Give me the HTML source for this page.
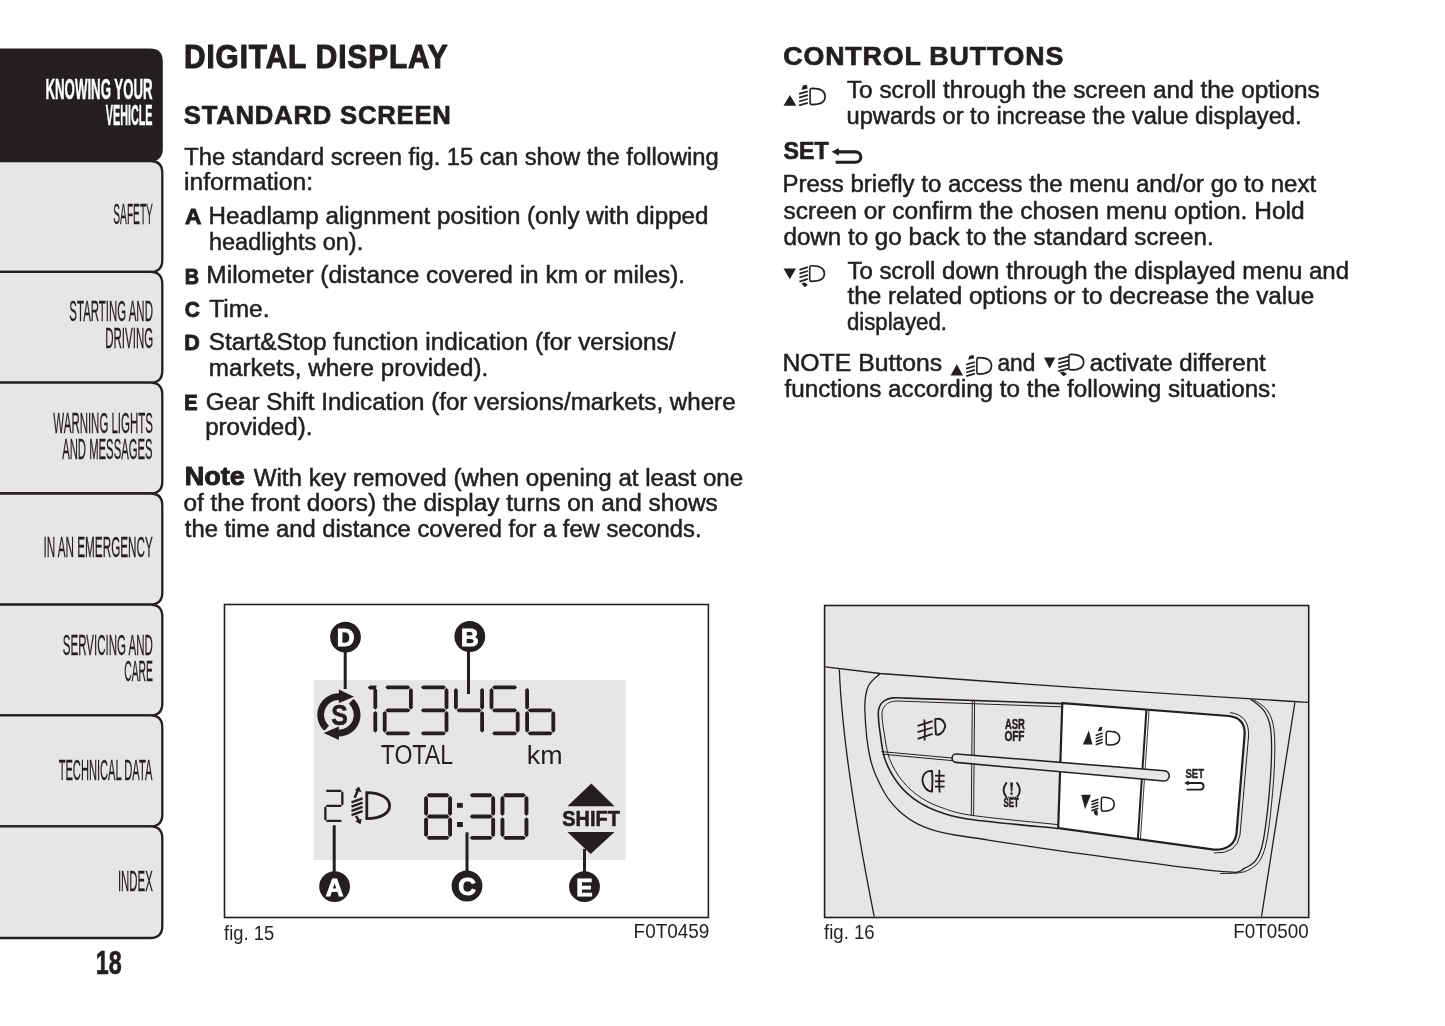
<!DOCTYPE html>
<html><head><meta charset="utf-8"><title>Digital display</title>
<style>
html,body{margin:0;padding:0;background:#ffffff;}
body{width:1445px;height:1026px;overflow:hidden;position:relative;font-family:"Liberation Sans",sans-serif;}
svg{position:absolute;left:0;top:0;will-change:transform;}
text{font-family:"Liberation Sans",sans-serif;}
</style></head><body>
<svg width="1445" height="1026" viewBox="0 0 1445 1026">
<path d="M-20 161.00L150.30 161.00Q162.30 161.00 162.30 173.00L162.30 259.90Q162.30 271.90 150.30 271.90L-20 271.90Z" fill="#e8e6e5" stroke="#231f20" stroke-width="2.3"/>
<path d="M-20 271.90L150.30 271.90Q162.30 271.90 162.30 283.90L162.30 370.70Q162.30 382.70 150.30 382.70L-20 382.70Z" fill="#e8e6e5" stroke="#231f20" stroke-width="2.3"/>
<path d="M-20 382.70L150.30 382.70Q162.30 382.70 162.30 394.70L162.30 481.50Q162.30 493.50 150.30 493.50L-20 493.50Z" fill="#e8e6e5" stroke="#231f20" stroke-width="2.3"/>
<path d="M-20 493.50L150.30 493.50Q162.30 493.50 162.30 505.50L162.30 592.60Q162.30 604.60 150.30 604.60L-20 604.60Z" fill="#e8e6e5" stroke="#231f20" stroke-width="2.3"/>
<path d="M-20 604.60L150.30 604.60Q162.30 604.60 162.30 616.60L162.30 703.40Q162.30 715.40 150.30 715.40L-20 715.40Z" fill="#e8e6e5" stroke="#231f20" stroke-width="2.3"/>
<path d="M-20 715.40L150.30 715.40Q162.30 715.40 162.30 727.40L162.30 814.40Q162.30 826.40 150.30 826.40L-20 826.40Z" fill="#e8e6e5" stroke="#231f20" stroke-width="2.3"/>
<path d="M-20 826.40L150.30 826.40Q162.30 826.40 162.30 838.40L162.30 926.00Q162.30 938.00 150.30 938.00L-20 938.00Z" fill="#e8e6e5" stroke="#231f20" stroke-width="2.3"/>
<path d="M-20 48.50L149.80 48.50Q162.80 48.50 162.80 61.50L162.80 148.50Q162.80 161.50 149.80 161.50L-20 161.50Z" fill="#231f20"/>
<rect x="224.5" y="604.5" width="483.9" height="313" fill="#ffffff" stroke="#231f20" stroke-width="1.6"/>
<rect x="313.7" y="680.1" width="311.8" height="179.9" fill="#e8e6e5"/>
<path d="M385.30 687.30L387.20 685.40L408.40 685.40L410.30 687.30L408.40 689.20L387.20 689.20ZM385.30 710.30L387.20 708.40L408.40 708.40L410.30 710.30L408.40 712.20L387.20 712.20ZM385.30 733.30L387.20 731.40L408.40 731.40L410.30 733.30L408.40 735.20L387.20 735.20ZM410.90 687.90L412.80 689.80L412.80 707.80L410.90 709.70L409.00 707.80L409.00 689.80ZM384.70 710.90L386.60 712.80L386.60 730.80L384.70 732.70L382.80 730.80L382.80 712.80ZM420.90 687.30L422.80 685.40L444.00 685.40L445.90 687.30L444.00 689.20L422.80 689.20ZM420.90 710.30L422.80 708.40L444.00 708.40L445.90 710.30L444.00 712.20L422.80 712.20ZM420.90 733.30L422.80 731.40L444.00 731.40L445.90 733.30L444.00 735.20L422.80 735.20ZM446.50 687.90L448.40 689.80L448.40 707.80L446.50 709.70L444.60 707.80L444.60 689.80ZM446.50 710.90L448.40 712.80L448.40 730.80L446.50 732.70L444.60 730.80L444.60 712.80ZM456.50 710.30L458.40 708.40L479.60 708.40L481.50 710.30L479.60 712.20L458.40 712.20ZM455.90 687.90L457.80 689.80L457.80 707.80L455.90 709.70L454.00 707.80L454.00 689.80ZM482.10 687.90L484.00 689.80L484.00 707.80L482.10 709.70L480.20 707.80L480.20 689.80ZM482.10 710.90L484.00 712.80L484.00 730.80L482.10 732.70L480.20 730.80L480.20 712.80ZM492.10 687.30L494.00 685.40L515.20 685.40L517.10 687.30L515.20 689.20L494.00 689.20ZM492.10 710.30L494.00 708.40L515.20 708.40L517.10 710.30L515.20 712.20L494.00 712.20ZM492.10 733.30L494.00 731.40L515.20 731.40L517.10 733.30L515.20 735.20L494.00 735.20ZM491.50 687.90L493.40 689.80L493.40 707.80L491.50 709.70L489.60 707.80L489.60 689.80ZM517.70 710.90L519.60 712.80L519.60 730.80L517.70 732.70L515.80 730.80L515.80 712.80ZM527.70 710.30L529.60 708.40L550.80 708.40L552.70 710.30L550.80 712.20L529.60 712.20ZM527.70 733.30L529.60 731.40L550.80 731.40L552.70 733.30L550.80 735.20L529.60 735.20ZM527.10 687.90L529.00 689.80L529.00 707.80L527.10 709.70L525.20 707.80L525.20 689.80ZM527.10 710.90L529.00 712.80L529.00 730.80L527.10 732.70L525.20 730.80L525.20 712.80ZM553.30 710.90L555.20 712.80L555.20 730.80L553.30 732.70L551.40 730.80L551.40 712.80ZM375.30 687.90L377.20 689.80L377.20 707.80L375.30 709.70L373.40 707.80L373.40 689.80ZM375.30 710.90L377.20 712.80L377.20 730.80L375.30 732.70L373.40 730.80L373.40 712.80ZM367.6 687.6L370.2 685.4L376.6 685.4L375.8 689.5L369.8 689.5ZM426.65 795.25L428.60 793.30L447.50 793.30L449.45 795.25L447.50 797.20L428.60 797.20ZM426.65 816.55L428.60 814.60L447.50 814.60L449.45 816.55L447.50 818.50L428.60 818.50ZM426.65 837.85L428.60 835.90L447.50 835.90L449.45 837.85L447.50 839.80L428.60 839.80ZM426.05 795.85L428.00 797.80L428.00 814.00L426.05 815.95L424.10 814.00L424.10 797.80ZM450.05 795.85L452.00 797.80L452.00 814.00L450.05 815.95L448.10 814.00L448.10 797.80ZM426.05 817.15L428.00 819.10L428.00 835.30L426.05 837.25L424.10 835.30L424.10 819.10ZM450.05 817.15L452.00 819.10L452.00 835.30L450.05 837.25L448.10 835.30L448.10 819.10ZM469.75 795.25L471.70 793.30L490.60 793.30L492.55 795.25L490.60 797.20L471.70 797.20ZM469.75 816.55L471.70 814.60L490.60 814.60L492.55 816.55L490.60 818.50L471.70 818.50ZM469.75 837.85L471.70 835.90L490.60 835.90L492.55 837.85L490.60 839.80L471.70 839.80ZM493.15 795.85L495.10 797.80L495.10 814.00L493.15 815.95L491.20 814.00L491.20 797.80ZM493.15 817.15L495.10 819.10L495.10 835.30L493.15 837.25L491.20 835.30L491.20 819.10ZM503.05 795.25L505.00 793.30L523.90 793.30L525.85 795.25L523.90 797.20L505.00 797.20ZM503.05 837.85L505.00 835.90L523.90 835.90L525.85 837.85L523.90 839.80L505.00 839.80ZM502.45 795.85L504.40 797.80L504.40 814.00L502.45 815.95L500.50 814.00L500.50 797.80ZM526.45 795.85L528.40 797.80L528.40 814.00L526.45 815.95L524.50 814.00L524.50 797.80ZM502.45 817.15L504.40 819.10L504.40 835.30L502.45 837.25L500.50 835.30L500.50 819.10ZM526.45 817.15L528.40 819.10L528.40 835.30L526.45 837.25L524.50 835.30L524.50 819.10ZM325.75 790.85L326.90 789.70L340.80 789.70L341.95 790.85L340.80 792.00L326.90 792.00ZM325.75 805.90L326.90 804.75L340.80 804.75L341.95 805.90L340.80 807.05L326.90 807.05ZM325.75 820.95L326.90 819.80L340.80 819.80L341.95 820.95L340.80 822.10L326.90 822.10ZM342.35 791.25L343.50 792.40L343.50 804.35L342.35 805.50L341.20 804.35L341.20 792.40ZM325.35 806.30L326.50 807.45L326.50 819.40L325.35 820.55L324.20 819.40L324.20 807.45Z" fill="#231f20"/>
<rect x="457.0" y="802.9" width="5.8" height="4.9" fill="#231f20"/>
<rect x="457.0" y="822.0" width="5.8" height="5.0" fill="#231f20"/>
<path d="M324.45 730.85A21.6 21.6 0 0 1 339.65 693.21L339.42 699.91A14.9 14.9 0 0 0 328.93 725.87ZM353.35 698.75A21.6 21.6 0 0 1 338.15 736.39L338.38 729.69A14.9 14.9 0 0 0 348.87 703.73Z" fill="#231f20"/>
<line x1="337.47" y1="704.78" x2="360.03" y2="695.44" stroke="#e8e6e5" stroke-width="2.0"/>
<polygon points="338.90,689.60 354.07,696.72 338.90,703.00" fill="#231f20"/>
<line x1="340.33" y1="724.82" x2="317.77" y2="734.16" stroke="#e8e6e5" stroke-width="2.0"/>
<polygon points="338.90,740.00 323.73,732.88 338.90,726.60" fill="#231f20"/>
<line x1="345.2" y1="650" x2="345.2" y2="689" stroke="#231f20" stroke-width="3"/>
<line x1="468.5" y1="650" x2="468.5" y2="694" stroke="#231f20" stroke-width="3"/>
<line x1="334.2" y1="825.3" x2="334.2" y2="872" stroke="#231f20" stroke-width="3"/>
<line x1="467.0" y1="832.3" x2="467.0" y2="872" stroke="#231f20" stroke-width="3"/>
<line x1="584.5" y1="849.0" x2="584.5" y2="872" stroke="#231f20" stroke-width="3"/>
<circle cx="345.5" cy="637.1" r="15.4" fill="#231f20"/>
<circle cx="469.8" cy="636.5" r="15.4" fill="#231f20"/>
<circle cx="334.6" cy="886.6" r="15.4" fill="#231f20"/>
<circle cx="467.0" cy="886.0" r="15.4" fill="#231f20"/>
<circle cx="584.5" cy="886.7" r="15.4" fill="#231f20"/>
<polygon points="567.4,806.2 614.5,806.2 591.3,783.6" fill="#231f20"/>
<polygon points="567.4,832.1 614.5,832.1 590.6,854.0" fill="#231f20"/>
<line x1="351.5" y1="802.4" x2="362.6" y2="798.4" stroke="#231f20" stroke-width="2.3"/>
<line x1="351.5" y1="806.6" x2="362.6" y2="802.6" stroke="#231f20" stroke-width="2.3"/>
<line x1="351.5" y1="810.9" x2="362.6" y2="806.9" stroke="#231f20" stroke-width="2.3"/>
<line x1="351.5" y1="815.1" x2="362.6" y2="811.1" stroke="#231f20" stroke-width="2.3"/>
<line x1="354.6" y1="797.8" x2="358.0" y2="790.0" stroke="#231f20" stroke-width="2.5"/>
<polygon points="358.9,786.6 354.9,790.0 361.6,792.2" fill="#231f20"/>
<line x1="356.0" y1="815.8" x2="359.0" y2="820.8" stroke="#231f20" stroke-width="2.5"/>
<polygon points="360.6,824.2 355.2,821.2 361.8,818.8" fill="#231f20"/>
<path d="M366.8 792.6C382 792.6 389.6 799 389.6 805.8C389.6 812.6 382 818.6 366.8 818.6Z" fill="none" stroke="#231f20" stroke-width="2.8"/>
<rect x="824.6" y="605.5" width="484.1" height="312" fill="#e8e6e5" stroke="#231f20" stroke-width="1.6"/>
<path d="M825.4 666.8L880.2 673.5Q1100 690 1308 702.3" fill="none" stroke="#231f20" stroke-width="1.3"/>
<path d="M839.3 669.4Q843 760 874.2 916.5" fill="none" stroke="#231f20" stroke-width="1.3"/>
<path d="M1294.9 702.3L1261.5 916.5" fill="none" stroke="#231f20" stroke-width="1.3"/>
<path d="M880.20 673.50C878.17 675.72 870.55 680.48 868.00 686.80C865.45 693.12 864.47 699.20 864.90 711.40C865.33 723.60 867.38 746.53 870.60 760.00C873.82 773.47 879.48 783.75 884.20 792.20C888.92 800.65 893.20 805.35 898.90 810.70C904.60 816.05 911.10 820.65 918.40 824.30C925.70 827.95 933.27 830.32 942.70 832.60C952.13 834.88 952.12 834.50 975.00 838.00C997.88 841.50 1039.50 848.07 1080.00 853.60C1120.50 859.13 1190.55 868.77 1218.00 871.20C1245.45 873.63 1237.53 871.78 1244.70 868.20C1251.87 864.62 1256.90 862.33 1261.00 849.70C1265.10 837.07 1267.58 811.17 1269.30 792.40C1271.02 773.63 1271.98 750.42 1271.30 737.10C1270.62 723.78 1268.62 718.82 1265.20 712.50C1261.78 706.18 1253.20 701.42 1250.80 699.20" fill="none" stroke="#231f20" stroke-width="1.3"/>
<path d="M1253.80 699.60C1256.23 701.67 1264.93 705.72 1268.40 712.00C1271.87 718.28 1273.90 723.87 1274.60 737.30C1275.30 750.73 1274.32 773.73 1272.60 792.60C1270.88 811.47 1268.48 837.52 1264.30 850.50C1260.12 863.48 1254.88 866.65 1247.50 870.50C1240.12 874.35 1224.58 873.08 1220.00 873.60" fill="none" stroke="#231f20" stroke-width="1.0"/>
<path d="M1062.0 703.6L905.0 698.1C903.00 698.07 896.42 697.48 893.00 697.90C889.58 698.32 886.73 699.17 884.50 700.60C882.27 702.03 880.63 704.27 879.60 706.50C878.57 708.73 878.23 709.75 878.30 714.00C878.37 718.25 878.85 724.33 880.00 732.00C881.15 739.67 882.05 751.27 885.20 760.00C888.35 768.73 893.37 777.42 898.90 784.40C904.43 791.38 911.10 797.12 918.40 801.90C925.70 806.68 933.27 810.08 942.70 813.10C952.13 816.12 955.78 817.43 975.00 820.00C994.22 822.57 1044.17 827.08 1058.00 828.50" fill="none" stroke="#231f20" stroke-width="1.6"/>
<path d="M1062.0 706.8L905.0 701.3C903.25 701.28 897.43 700.82 894.50 701.20C891.57 701.58 889.28 702.37 887.40 703.60C885.52 704.83 884.10 706.70 883.20 708.60C882.30 710.50 881.87 711.10 882.00 715.00C882.13 718.90 882.77 724.75 884.00 732.00C885.23 739.25 886.33 750.33 889.40 758.50C892.47 766.67 897.10 774.45 902.40 781.00C907.70 787.55 914.18 793.20 921.20 797.80C928.22 802.40 935.53 805.60 944.50 808.60C953.47 811.60 956.08 813.13 975.00 815.80C993.92 818.47 1044.17 823.13 1058.00 824.60" fill="none" stroke="#231f20" stroke-width="1.0"/>
<path d="M1062.3 703.2L1229 716Q1246 718 1244.5 736L1236.5 833.4Q1234 850 1214 849.7L1058.2 828Z" fill="#ffffff" stroke="#231f20" stroke-width="2.2"/>
<path d="M1230 712.6Q1250 715 1248.5 737L1240 835Q1237 854 1214 853" fill="none" stroke="#231f20" stroke-width="1.0"/>
<path d="M972.3 700.1L971.3 815.7" fill="none" stroke="#231f20" stroke-width="1.0"/>
<path d="M974.6 700.3L973.6 815.9" fill="none" stroke="#231f20" stroke-width="1.0"/>
<path d="M1146.4 710.5L1137.8 839.5" fill="none" stroke="#231f20" stroke-width="2.0"/>
<path d="M1149.0 711.0L1140.4 839.8" fill="none" stroke="#231f20" stroke-width="0.9"/>
<path d="M881.5 751.6L952 758.0" fill="none" stroke="#231f20" stroke-width="1.0"/>
<path d="M882.5 754.2L952 760.6" fill="none" stroke="#231f20" stroke-width="1.0"/>
<path d="M1060.5 766.0L1146 772.5" fill="none" stroke="#231f20" stroke-width="2.0"/>
<path d="M956.5 754.0L1164.5 770.8A5.1 5.1 0 0 1 1163.8 781.0L956 762.4A4.2 4.2 0 0 1 956.5 754.0Z" fill="#e8e6e5" stroke="#231f20" stroke-width="1.6"/>
<path d="M935.3 719.2C944.5 716.8 945.8 726.5 944.6 728.2C943.2 732.5 939 735.6 936.0 734.4C935.4 729 935.1 724 935.3 719.2Z" fill="none" stroke="#231f20" stroke-width="1.9"/>
<line x1="917.6" y1="725.8" x2="932.6" y2="721.2" stroke="#231f20" stroke-width="1.8"/>
<line x1="917.6" y1="732.1" x2="932.6" y2="727.5" stroke="#231f20" stroke-width="1.8"/>
<line x1="917.6" y1="738.8" x2="932.6" y2="733.8" stroke="#231f20" stroke-width="1.8"/>
<path d="M924.3 719.5Q925.4 730 924.6 740.5" fill="none" stroke="#231f20" stroke-width="1.8"/>
<path d="M932.0 770.9C924 770.5 922.2 777 922.5 781.0C922.8 786 927 791.5 932.0 791.6C932.6 785 932.6 777 932.0 770.9Z" fill="none" stroke="#231f20" stroke-width="1.9"/>
<line x1="935.0" y1="775.7" x2="944.6" y2="775.7" stroke="#231f20" stroke-width="1.8"/>
<line x1="935.0" y1="781.3" x2="944.6" y2="781.3" stroke="#231f20" stroke-width="1.8"/>
<line x1="935.0" y1="786.6" x2="944.6" y2="786.6" stroke="#231f20" stroke-width="1.8"/>
<path d="M939.4 769.9Q938.8 781 939.6 792.5" fill="none" stroke="#231f20" stroke-width="1.8"/>
<polygon points="1082.90,744.50 1092.50,744.50 1088.80,730.50" fill="#231f20"/>
<line x1="1095.70" y1="735.50" x2="1102.70" y2="733.00" stroke="#231f20" stroke-width="1.5"/>
<line x1="1095.70" y1="738.60" x2="1102.70" y2="736.10" stroke="#231f20" stroke-width="1.5"/>
<line x1="1095.70" y1="741.70" x2="1102.70" y2="739.20" stroke="#231f20" stroke-width="1.5"/>
<line x1="1095.70" y1="744.80" x2="1102.70" y2="742.30" stroke="#231f20" stroke-width="1.5"/>
<polygon points="1097.60,731.50 1101.80,730.60 1102.20,726.80 1099.50,727.20" fill="#231f20"/>
<path d="M1106.25 733.45L1106.25 742.85Q1106.25 745.05 1108.45 745.05C1115.90 745.05 1119.65 742.43 1119.65 738.15C1119.65 733.87 1115.90 731.25 1108.45 731.25Q1106.25 731.25 1106.25 733.45Z" fill="none" stroke="#231f20" stroke-width="1.5"/>
<polygon points="1081.30,794.80 1090.90,794.80 1085.00,809.30" fill="#231f20"/>
<line x1="1091.40" y1="801.80" x2="1098.40" y2="799.30" stroke="#231f20" stroke-width="1.5"/>
<line x1="1091.40" y1="804.80" x2="1098.40" y2="802.30" stroke="#231f20" stroke-width="1.5"/>
<line x1="1091.40" y1="807.80" x2="1098.40" y2="805.30" stroke="#231f20" stroke-width="1.5"/>
<line x1="1091.40" y1="810.80" x2="1098.40" y2="808.30" stroke="#231f20" stroke-width="1.5"/>
<polygon points="1093.50,810.80 1097.50,810.00 1097.90,815.70 1094.80,815.00" fill="#231f20"/>
<path d="M1101.35 799.45L1101.35 809.05Q1101.35 811.25 1103.55 811.25C1110.64 811.25 1114.25 808.59 1114.25 804.25C1114.25 799.91 1110.64 797.25 1103.55 797.25Q1101.35 797.25 1101.35 799.45Z" fill="none" stroke="#231f20" stroke-width="1.5"/>
<path d="M1006.8 782.4Q1000.6 790.0 1006.4 797.2" fill="none" stroke="#231f20" stroke-width="1.9"/>
<path d="M1016.6 782.4Q1022.8 790.0 1017.0 797.2" fill="none" stroke="#231f20" stroke-width="1.9"/>
<path d="M1010.2 782.6L1013.0 782.6L1012.3 791.4L1010.9 791.4Z" fill="#231f20"/>
<rect x="1010.4" y="792.5" width="2.3" height="2.2" fill="#231f20"/>
<line x1="1006.0" y1="797.4" x2="1017.5" y2="797.4" stroke="#231f20" stroke-width="1.3" stroke-dasharray="1.1 0.7"/>
<path d="M1187.5 783.0L1201.0 783.0A3.4 3.4 0 0 1 1201.0 789.6L1186.5 789.6" fill="none" stroke="#231f20" stroke-width="1.9"/>
<polygon points="1184.3,783.0 1188.6,780.6 1188.6,785.4" fill="#231f20"/>
<polygon points="783.50,105.80 796.30,105.80 789.90,95.10" fill="#231f20"/>
<line x1="799.10" y1="93.90" x2="807.80" y2="91.40" stroke="#231f20" stroke-width="1.8"/>
<line x1="799.10" y1="97.70" x2="807.80" y2="95.20" stroke="#231f20" stroke-width="1.8"/>
<line x1="799.10" y1="101.50" x2="807.80" y2="99.00" stroke="#231f20" stroke-width="1.8"/>
<line x1="799.10" y1="105.40" x2="807.80" y2="102.90" stroke="#231f20" stroke-width="1.8"/>
<polygon points="801.60,90.00 807.60,88.60 806.80,84.70 802.80,85.40" fill="#231f20"/>
<path d="M810.10 90.60L810.10 102.40Q810.10 104.60 812.30 104.60C820.90 104.60 825.10 101.52 825.10 96.50C825.10 91.48 820.90 88.40 812.30 88.40Q810.10 88.40 810.10 90.60Z" fill="none" stroke="#231f20" stroke-width="1.6"/>
<polygon points="783.50,268.50 796.00,268.50 789.80,279.20" fill="#231f20"/>
<line x1="799.50" y1="269.90" x2="807.80" y2="267.20" stroke="#231f20" stroke-width="1.8"/>
<line x1="799.50" y1="273.70" x2="807.80" y2="271.00" stroke="#231f20" stroke-width="1.8"/>
<line x1="799.50" y1="277.50" x2="807.80" y2="274.80" stroke="#231f20" stroke-width="1.8"/>
<line x1="799.50" y1="281.60" x2="807.80" y2="278.90" stroke="#231f20" stroke-width="1.8"/>
<polygon points="801.40,283.60 804.60,282.20 807.80,285.00 804.80,287.30" fill="#231f20"/>
<path d="M809.70 267.90L809.70 279.20Q809.70 281.40 811.90 281.40C820.28 281.40 824.40 278.42 824.40 273.55C824.40 268.68 820.28 265.70 811.90 265.70Q809.70 265.70 809.70 267.90Z" fill="none" stroke="#231f20" stroke-width="1.6"/>
<polygon points="950.60,375.50 963.00,375.50 956.80,364.30" fill="#231f20"/>
<line x1="966.20" y1="364.60" x2="974.90" y2="362.00" stroke="#231f20" stroke-width="1.8"/>
<line x1="966.20" y1="368.60" x2="974.90" y2="366.00" stroke="#231f20" stroke-width="1.8"/>
<line x1="966.20" y1="372.50" x2="974.90" y2="369.90" stroke="#231f20" stroke-width="1.8"/>
<line x1="966.20" y1="376.20" x2="974.90" y2="373.60" stroke="#231f20" stroke-width="1.8"/>
<polygon points="968.00,359.80 974.20,358.20 973.60,354.90 969.60,355.80" fill="#231f20"/>
<path d="M976.90 359.80L976.90 371.90Q976.90 374.10 979.10 374.10C987.41 374.10 991.50 370.97 991.50 365.85C991.50 360.74 987.41 357.60 979.10 357.60Q976.90 357.60 976.90 359.80Z" fill="none" stroke="#231f20" stroke-width="1.6"/>
<polygon points="1044.00,357.40 1055.20,357.40 1049.60,368.60" fill="#231f20"/>
<line x1="1058.30" y1="359.30" x2="1068.30" y2="356.70" stroke="#231f20" stroke-width="1.8"/>
<line x1="1058.30" y1="363.30" x2="1068.30" y2="360.70" stroke="#231f20" stroke-width="1.8"/>
<line x1="1058.30" y1="367.30" x2="1068.30" y2="364.70" stroke="#231f20" stroke-width="1.8"/>
<line x1="1058.30" y1="371.20" x2="1068.30" y2="368.60" stroke="#231f20" stroke-width="1.8"/>
<polygon points="1059.80,372.60 1063.40,371.40 1067.00,374.00 1063.60,376.20" fill="#231f20"/>
<path d="M1068.90 356.60L1068.90 367.70Q1068.90 369.90 1071.10 369.90C1079.56 369.90 1083.70 366.95 1083.70 362.15C1083.70 357.34 1079.56 354.40 1071.10 354.40Q1068.90 354.40 1068.90 356.60Z" fill="none" stroke="#231f20" stroke-width="1.6"/>
<path d="M837.0 151.9L855.6 151.9A5.2 5.2 0 0 1 855.6 162.3L835.6 162.3" fill="none" stroke="#231f20" stroke-width="3.1"/>
<polygon points="831.6,151.8 838.9,147.9 838.9,155.7" fill="#231f20"/>
<text x="184.00" y="68.30" font-size="33" font-weight="700" letter-spacing="1.0" fill="#231f20" stroke="#231f20" stroke-width="1.1" textLength="264.51" lengthAdjust="spacingAndGlyphs">DIGITAL DISPLAY</text>
<text x="183.81" y="124.20" font-size="26" font-weight="700" letter-spacing="0.8" fill="#231f20" stroke="#231f20" stroke-width="0.7" textLength="267.78" lengthAdjust="spacingAndGlyphs">STANDARD SCREEN</text>
<text x="184.20" y="164.70" font-size="23" font-weight="400" fill="#231f20" stroke="#231f20" stroke-width="0.5" textLength="534.54" lengthAdjust="spacingAndGlyphs">The standard screen fig. 15 can show the following</text>
<text x="184.03" y="190.40" font-size="23" font-weight="400" fill="#231f20" stroke="#231f20" stroke-width="0.5" textLength="129.11" lengthAdjust="spacingAndGlyphs">information:</text>
<text x="184.90" y="224.30" font-size="21.5" font-weight="700" fill="#231f20" stroke="#231f20" stroke-width="0.9" textLength="16.36" lengthAdjust="spacingAndGlyphs">A</text>
<text x="208.60" y="224.10" font-size="23" font-weight="400" fill="#231f20" stroke="#231f20" stroke-width="0.5" textLength="499.91" lengthAdjust="spacingAndGlyphs">Headlamp alignment position (only with dipped</text>
<text x="208.98" y="249.80" font-size="23" font-weight="400" fill="#231f20" stroke="#231f20" stroke-width="0.5" textLength="154.26" lengthAdjust="spacingAndGlyphs">headlights on).</text>
<text x="184.68" y="283.50" font-size="21.5" font-weight="700" fill="#231f20" stroke="#231f20" stroke-width="0.9" textLength="14.31" lengthAdjust="spacingAndGlyphs">B</text>
<text x="206.38" y="283.30" font-size="23" font-weight="400" fill="#231f20" stroke="#231f20" stroke-width="0.5" textLength="478.74" lengthAdjust="spacingAndGlyphs">Milometer (distance covered in km or miles).</text>
<text x="184.63" y="317.10" font-size="21.5" font-weight="700" fill="#231f20" stroke="#231f20" stroke-width="0.9" textLength="15.09" lengthAdjust="spacingAndGlyphs">C</text>
<text x="209.20" y="316.50" font-size="23" font-weight="400" fill="#231f20" stroke="#231f20" stroke-width="0.5" textLength="60.26" lengthAdjust="spacingAndGlyphs">Time.</text>
<text x="184.20" y="350.00" font-size="21.5" font-weight="700" fill="#231f20" stroke="#231f20" stroke-width="0.9" textLength="15.53" lengthAdjust="spacingAndGlyphs">D</text>
<text x="208.84" y="349.90" font-size="23" font-weight="400" fill="#231f20" stroke="#231f20" stroke-width="0.5" textLength="466.72" lengthAdjust="spacingAndGlyphs">Start&amp;Stop function indication (for versions/</text>
<text x="208.85" y="375.80" font-size="23" font-weight="400" fill="#231f20" stroke="#231f20" stroke-width="0.5" textLength="279.34" lengthAdjust="spacingAndGlyphs">markets, where provided).</text>
<text x="184.27" y="409.60" font-size="21.5" font-weight="700" fill="#231f20" stroke="#231f20" stroke-width="0.9" textLength="13.35" lengthAdjust="spacingAndGlyphs">E</text>
<text x="205.85" y="409.50" font-size="23" font-weight="400" fill="#231f20" stroke="#231f20" stroke-width="0.5" textLength="529.72" lengthAdjust="spacingAndGlyphs">Gear Shift Indication (for versions/markets, where</text>
<text x="205.15" y="434.80" font-size="23" font-weight="400" fill="#231f20" stroke="#231f20" stroke-width="0.5" textLength="107.29" lengthAdjust="spacingAndGlyphs">provided).</text>
<text x="184.82" y="485.30" font-size="25" font-weight="700" fill="#231f20" stroke="#231f20" stroke-width="0.9" textLength="60.09" lengthAdjust="spacingAndGlyphs">Note</text>
<text x="253.70" y="485.60" font-size="23" font-weight="400" fill="#231f20" stroke="#231f20" stroke-width="0.5" textLength="489.49" lengthAdjust="spacingAndGlyphs">With key removed (when opening at least one</text>
<text x="183.44" y="510.90" font-size="23" font-weight="400" fill="#231f20" stroke="#231f20" stroke-width="0.5" textLength="534.34" lengthAdjust="spacingAndGlyphs">of the front doors) the display turns on and shows</text>
<text x="184.80" y="536.80" font-size="23" font-weight="400" fill="#231f20" stroke="#231f20" stroke-width="0.5" textLength="516.75" lengthAdjust="spacingAndGlyphs">the time and distance covered for a few seconds.</text>
<text x="783.37" y="64.60" font-size="26" font-weight="700" letter-spacing="0.8" fill="#231f20" stroke="#231f20" stroke-width="0.7" textLength="280.76" lengthAdjust="spacingAndGlyphs">CONTROL BUTTONS</text>
<text x="846.90" y="98.20" font-size="23" font-weight="400" fill="#231f20" stroke="#231f20" stroke-width="0.5" textLength="472.85" lengthAdjust="spacingAndGlyphs">To scroll through the screen and the options</text>
<text x="846.47" y="124.40" font-size="23" font-weight="400" fill="#231f20" stroke="#231f20" stroke-width="0.5" textLength="455.14" lengthAdjust="spacingAndGlyphs">upwards or to increase the value displayed.</text>
<text x="783.62" y="158.60" font-size="23.7" font-weight="700" fill="#231f20" stroke="#231f20" stroke-width="0.7" textLength="44.95" lengthAdjust="spacingAndGlyphs">SET</text>
<text x="782.51" y="192.30" font-size="23" font-weight="400" fill="#231f20" stroke="#231f20" stroke-width="0.5" textLength="533.65" lengthAdjust="spacingAndGlyphs">Press briefly to access the menu and/or go to next</text>
<text x="783.44" y="218.90" font-size="23" font-weight="400" fill="#231f20" stroke="#231f20" stroke-width="0.5" textLength="521.13" lengthAdjust="spacingAndGlyphs">screen or confirm the chosen menu option. Hold</text>
<text x="783.45" y="245.30" font-size="23" font-weight="400" fill="#231f20" stroke="#231f20" stroke-width="0.5" textLength="430.22" lengthAdjust="spacingAndGlyphs">down to go back to the standard screen.</text>
<text x="847.40" y="278.50" font-size="23" font-weight="400" fill="#231f20" stroke="#231f20" stroke-width="0.5" textLength="501.68" lengthAdjust="spacingAndGlyphs">To scroll down through the displayed menu and</text>
<text x="847.50" y="304.20" font-size="23" font-weight="400" fill="#231f20" stroke="#231f20" stroke-width="0.5" textLength="466.63" lengthAdjust="spacingAndGlyphs">the related options or to decrease the value</text>
<text x="846.93" y="330.30" font-size="23" font-weight="400" fill="#231f20" stroke="#231f20" stroke-width="0.5" textLength="99.99" lengthAdjust="spacingAndGlyphs">displayed.</text>
<text x="782.45" y="371.00" font-size="23" font-weight="400" fill="#231f20" stroke="#231f20" stroke-width="0.5" textLength="159.76" lengthAdjust="spacingAndGlyphs">NOTE Buttons</text>
<text x="997.51" y="370.80" font-size="23" font-weight="400" fill="#231f20" stroke="#231f20" stroke-width="0.5" textLength="37.84" lengthAdjust="spacingAndGlyphs">and</text>
<text x="1089.65" y="370.80" font-size="23" font-weight="400" fill="#231f20" stroke="#231f20" stroke-width="0.5" textLength="176.08" lengthAdjust="spacingAndGlyphs">activate different</text>
<text x="784.50" y="396.80" font-size="23" font-weight="400" fill="#231f20" stroke="#231f20" stroke-width="0.5" textLength="492.46" lengthAdjust="spacingAndGlyphs">functions according to the following situations:</text>
<text x="224.10" y="939.60" font-size="20" font-weight="400" fill="#231f20" textLength="50.04" lengthAdjust="spacingAndGlyphs">fig. 15</text>
<text x="633.60" y="937.80" font-size="21" font-weight="400" fill="#231f20" textLength="75.76" lengthAdjust="spacingAndGlyphs">F0T0459</text>
<text x="824.00" y="938.60" font-size="20" font-weight="400" fill="#231f20" textLength="50.65" lengthAdjust="spacingAndGlyphs">fig. 16</text>
<text x="1233.30" y="937.90" font-size="21" font-weight="400" fill="#231f20" textLength="75.35" lengthAdjust="spacingAndGlyphs">F0T0500</text>
<text x="45.48" y="99.00" font-size="28.8" font-weight="700" fill="#ffffff" stroke="#ffffff" stroke-width="0.5" textLength="107.14" lengthAdjust="spacingAndGlyphs">KNOWING YOUR</text>
<text x="105.80" y="124.70" font-size="28.8" font-weight="700" fill="#ffffff" stroke="#ffffff" stroke-width="0.5" textLength="46.70" lengthAdjust="spacingAndGlyphs">VEHICLE</text>
<text x="113.30" y="223.55" font-size="28.8" font-weight="400" fill="#231f20" stroke="#231f20" stroke-width="0.3" textLength="39.61" lengthAdjust="spacingAndGlyphs">SAFETY</text>
<text x="69.35" y="321.45" font-size="28.8" font-weight="400" fill="#231f20" stroke="#231f20" stroke-width="0.3" textLength="83.56" lengthAdjust="spacingAndGlyphs">STARTING AND</text>
<text x="105.15" y="347.85" font-size="28.8" font-weight="400" fill="#231f20" stroke="#231f20" stroke-width="0.3" textLength="48.10" lengthAdjust="spacingAndGlyphs">DRIVING</text>
<text x="53.35" y="432.55" font-size="28.8" font-weight="400" fill="#231f20" stroke="#231f20" stroke-width="0.3" textLength="99.55" lengthAdjust="spacingAndGlyphs">WARNING LIGHTS</text>
<text x="62.15" y="458.85" font-size="28.8" font-weight="400" fill="#231f20" stroke="#231f20" stroke-width="0.3" textLength="90.47" lengthAdjust="spacingAndGlyphs">AND MESSAGES</text>
<text x="43.44" y="557.15" font-size="28.8" font-weight="400" fill="#231f20" stroke="#231f20" stroke-width="0.3" textLength="109.35" lengthAdjust="spacingAndGlyphs">IN AN EMERGENCY</text>
<text x="62.85" y="654.85" font-size="28.8" font-weight="400" fill="#231f20" stroke="#231f20" stroke-width="0.3" textLength="90.04" lengthAdjust="spacingAndGlyphs">SERVICING AND</text>
<text x="124.19" y="681.35" font-size="28.8" font-weight="400" fill="#231f20" stroke="#231f20" stroke-width="0.3" textLength="28.62" lengthAdjust="spacingAndGlyphs">CARE</text>
<text x="58.65" y="780.25" font-size="28.8" font-weight="400" fill="#231f20" stroke="#231f20" stroke-width="0.3" textLength="93.67" lengthAdjust="spacingAndGlyphs">TECHNICAL DATA</text>
<text x="117.96" y="890.85" font-size="28.8" font-weight="400" fill="#231f20" stroke="#231f20" stroke-width="0.3" textLength="34.79" lengthAdjust="spacingAndGlyphs">INDEX</text>
<text x="95.69" y="974.10" font-size="33" font-weight="700" fill="#231f20" stroke="#231f20" stroke-width="0.7" textLength="25.92" lengthAdjust="spacingAndGlyphs">18</text>
<text x="380.70" y="763.50" font-size="27" font-weight="400" fill="#231f20" textLength="72.35" lengthAdjust="spacingAndGlyphs">TOTAL</text>
<text x="526.87" y="763.80" font-size="26" font-weight="400" fill="#231f20" textLength="35.86" lengthAdjust="spacingAndGlyphs">km</text>
<text x="562.30" y="825.70" font-size="21.5" font-weight="700" fill="#231f20" stroke="#231f20" stroke-width="0.6" textLength="57.50" lengthAdjust="spacingAndGlyphs">SHIFT</text>
<text x="1004.90" y="729.20" font-size="14.5" font-weight="700" fill="#231f20" stroke="#231f20" stroke-width="0.5" textLength="19.86" lengthAdjust="spacingAndGlyphs">ASR</text>
<text x="1004.40" y="740.50" font-size="14.5" font-weight="700" fill="#231f20" stroke="#231f20" stroke-width="0.5" textLength="20.10" lengthAdjust="spacingAndGlyphs">OFF</text>
<text x="1003.40" y="806.50" font-size="12.5" font-weight="700" fill="#231f20" stroke="#231f20" stroke-width="0.5" textLength="15.56" lengthAdjust="spacingAndGlyphs">SET</text>
<text x="1185.50" y="777.80" font-size="12.5" font-weight="700" fill="#231f20" stroke="#231f20" stroke-width="0.5" textLength="18.48" lengthAdjust="spacingAndGlyphs">SET</text>
<text x="345.5" y="646.1" text-anchor="middle" font-size="24.5" font-weight="700" fill="#ffffff" stroke="#ffffff" stroke-width="0.9">D</text>
<text x="469.8" y="645.5" text-anchor="middle" font-size="24.5" font-weight="700" fill="#ffffff" stroke="#ffffff" stroke-width="0.9">B</text>
<text x="334.6" y="895.5" text-anchor="middle" font-size="24.5" font-weight="700" fill="#ffffff" stroke="#ffffff" stroke-width="0.9">A</text>
<text x="467.0" y="895.0" text-anchor="middle" font-size="24.5" font-weight="700" fill="#ffffff" stroke="#ffffff" stroke-width="0.9">C</text>
<text x="584.5" y="895.7" text-anchor="middle" font-size="24.5" font-weight="700" fill="#ffffff" stroke="#ffffff" stroke-width="0.9">E</text>
<text x="339.4" y="724.8" text-anchor="middle" font-size="29.5" font-weight="700" fill="#231f20" stroke="#231f20" stroke-width="0.6" textLength="16.5" lengthAdjust="spacingAndGlyphs">S</text>
</svg>
</body></html>
